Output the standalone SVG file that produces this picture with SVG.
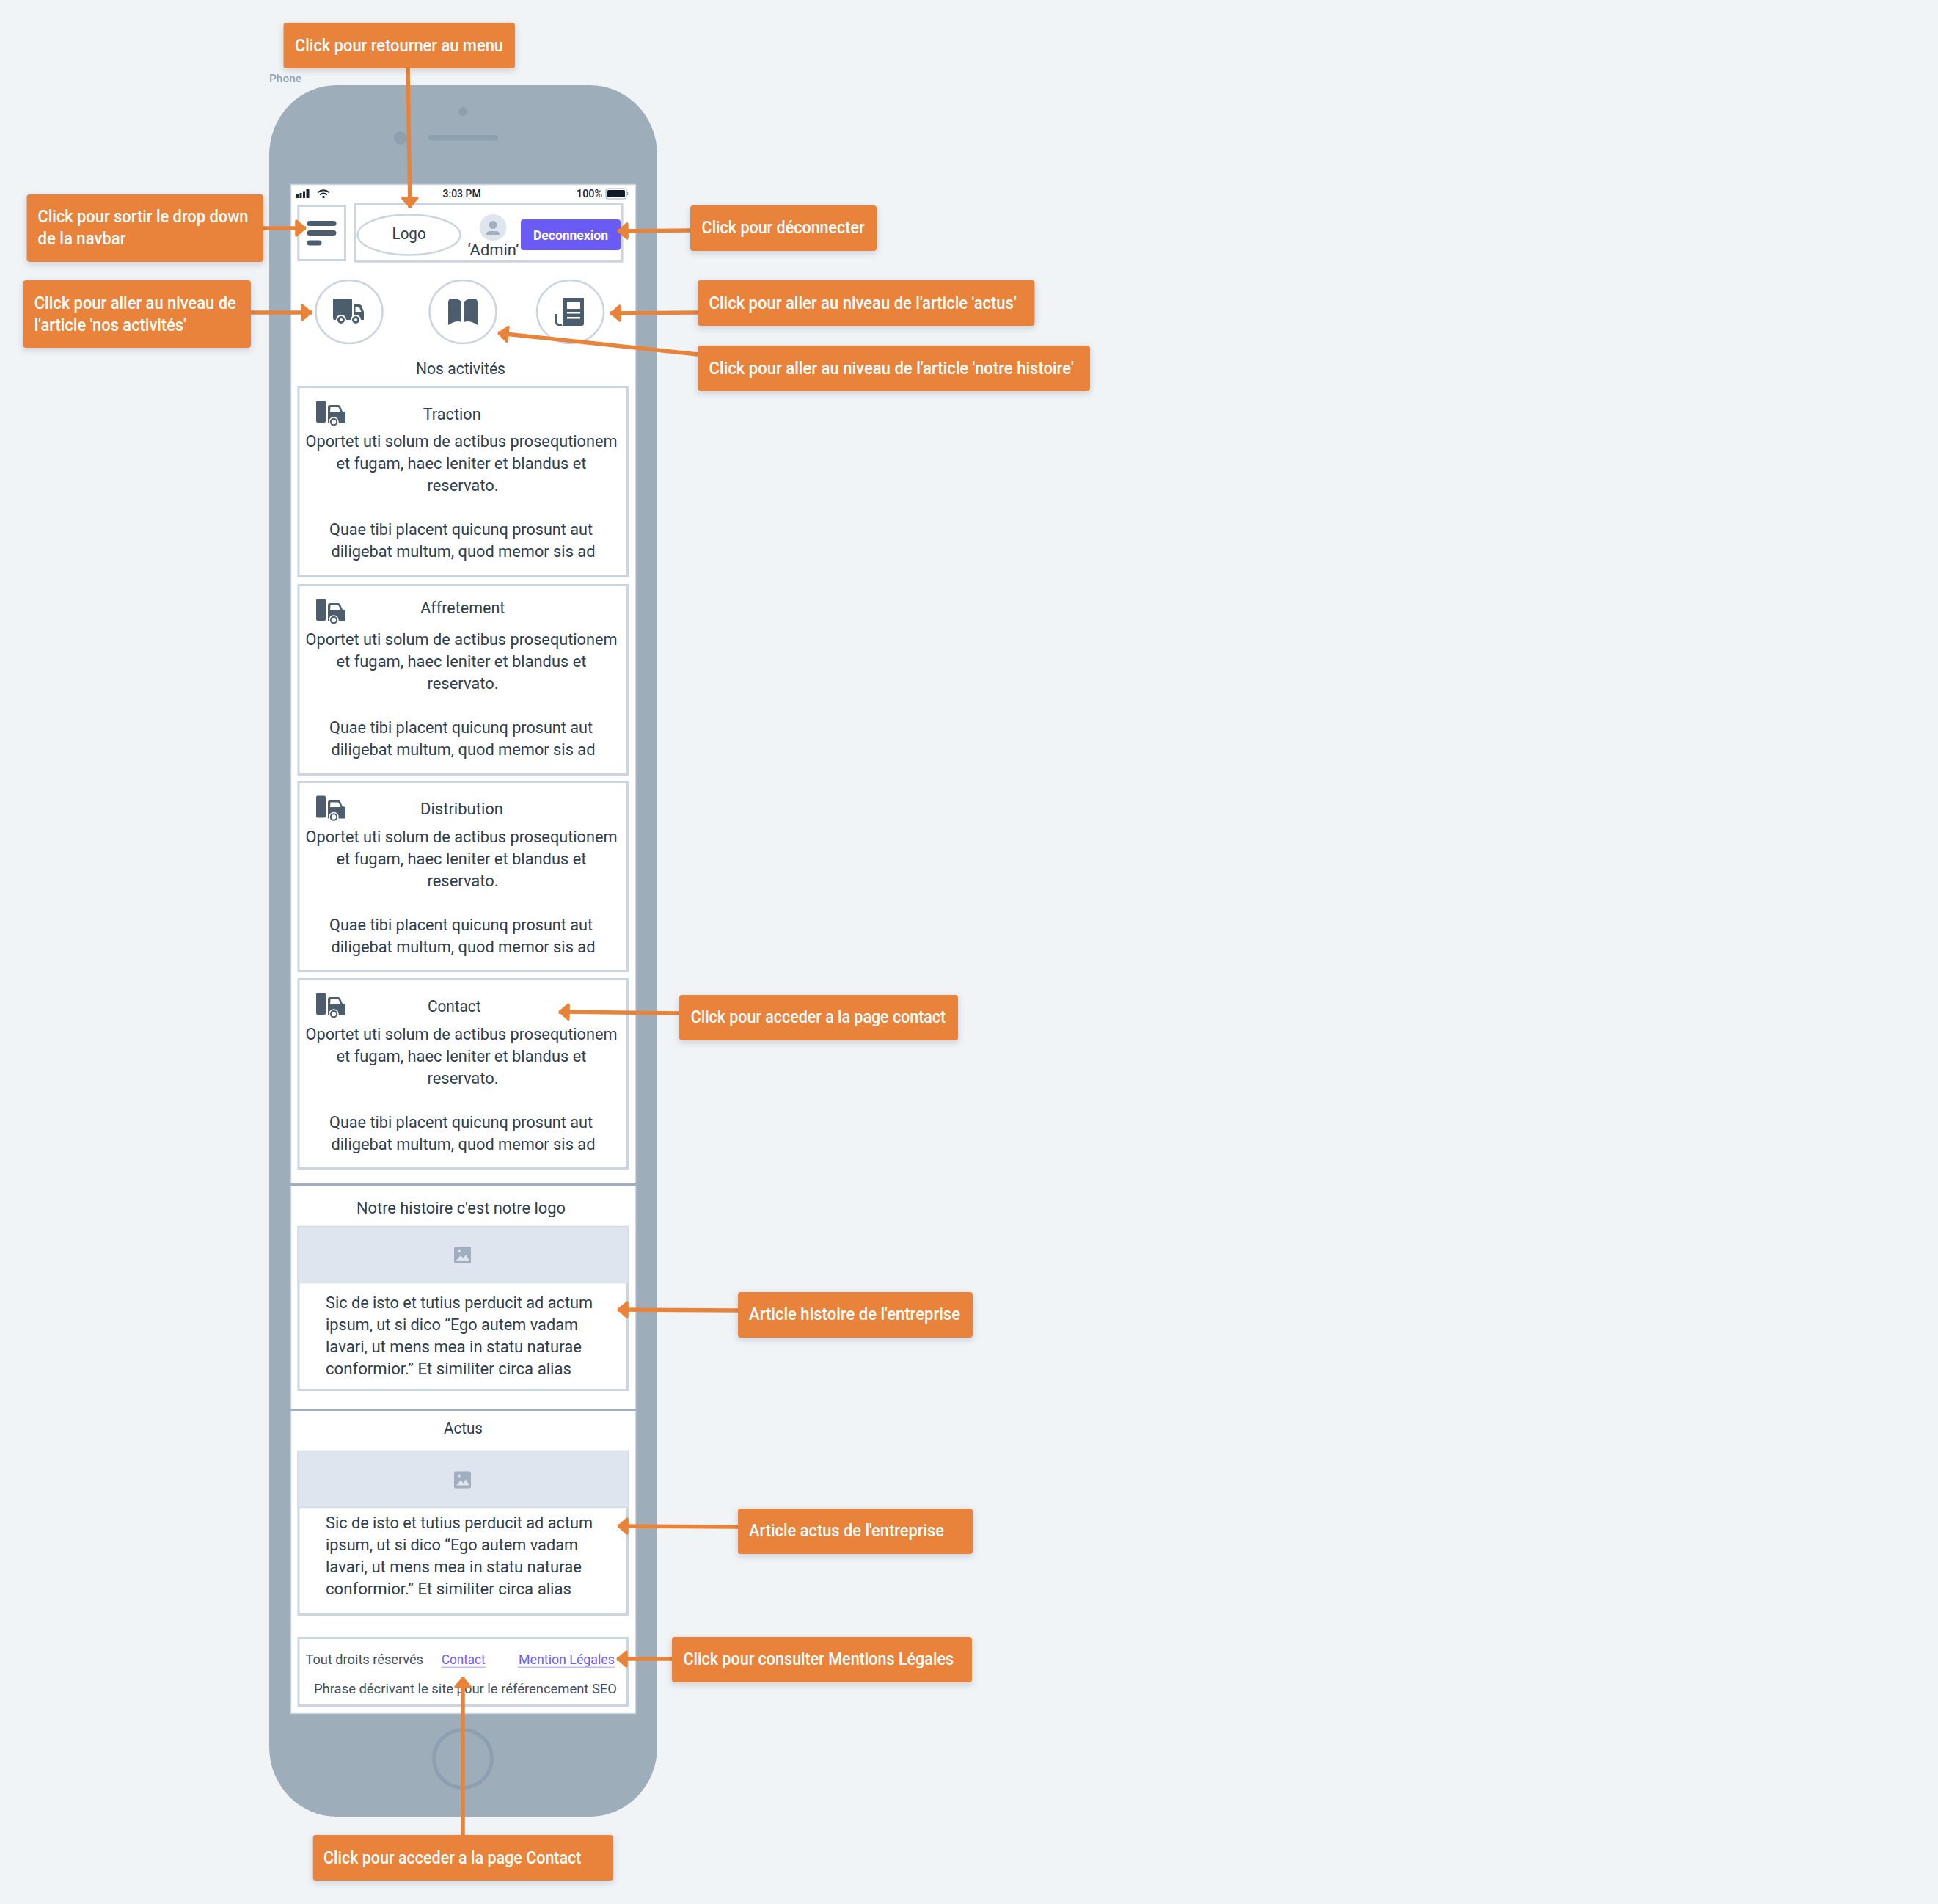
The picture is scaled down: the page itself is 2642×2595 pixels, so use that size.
<svg xmlns="http://www.w3.org/2000/svg" width="2642" height="2595" viewBox="0 0 2642 2595">
<style>
text{font-family:Roboto,"Liberation Sans",sans-serif;font-size:22px;fill:#2f3e4e;white-space:pre}
.c{font-weight:500;fill:#fff;font-size:23px}
.f{font-size:18.5px;fill:#414e5c}
.l{font-size:18.5px;fill:#6b5bf5}
.s{font-size:14.5px;font-weight:500;fill:#1c2733}
.box{fill:#fff;stroke:#cbd5e0;stroke-width:3}
.ph{fill:#dfe5ee;stroke:#d3dbe5;stroke-width:1.5}
.co{fill:#e9833a;rx:4px;ry:4px;filter:url(#sh)}
.cn{fill:none;stroke:#e9833a;stroke-width:5.5;marker-end:url(#ah)}
.ic{fill:#4c5e6e}
.dk{fill:#8e9fb0}
</style>
<defs>
<filter id="sh" x="-10%" y="-20%" width="120%" height="150%"><feDropShadow dx="0" dy="3" stdDeviation="4" flood-color="#334" flood-opacity=".18"/></filter>
<marker id="ah" markerUnits="userSpaceOnUse" markerWidth="24" markerHeight="26" viewBox="0 0 24 26" refX="21" refY="13" orient="auto"><path d="M21 13 9 2.5Q7 1 7 4V22Q7 25 9 23.5Z" fill="#e9833a" stroke="#e9833a" stroke-width="1.5" stroke-linejoin="round"/></marker>
<g id="tk">
<rect x="431" y="546" width="13" height="30" rx="2" class="ic"/>
<path class="ic" d="M447 555q0-3 3-3h11q2 0 3 2l3 7h2q2 0 2 2v14h-24z"/>
<path fill="#fff" d="M450.500 555h10q1 0 1.500 1l2.500 5.500h-14.500z"/>
<circle cx="455" cy="575" r="6" fill="#4c5e6e" stroke="#fff" stroke-width="1.500"/>
<circle cx="455" cy="575" r="3.200" fill="#fff"/>
</g>
<g id="im">
<rect x="619" y="0" width="23" height="23" rx="2" fill="#a0aec0"/>
<path fill="#dfe5ee" d="M622 19l6-7 3.500 4 3.500-5 5 8z"/>
<circle cx="626" cy="6" r="2" fill="#dfe5ee"/>
</g>
</defs>
<rect width="2642" height="2595" fill="#f0f4f7"/>
<g id="phone">
<text x="367" y="112" textLength="44" lengthAdjust="spacingAndGlyphs" style="font-size:15.500px;font-weight:500;fill:#93a3b3">Phone</text>
<rect x="367" y="116" width="529" height="2360" rx="92" ry="95" fill="#9dadba"/>
<circle cx="631" cy="152" r="6" class="dk"/>
<circle cx="546" cy="188" r="9" class="dk"/>
<rect x="584" y="184" width="95" height="7.500" rx="3.700" class="dk"/>
<circle cx="631" cy="2397" r="39.500" fill="none" stroke="#8e9fb0" stroke-width="5"/>
<rect x="396.500" y="251.500" width="470" height="2084" fill="#fff" stroke="#cbd5e0" stroke-width="1.500"/>
</g>
<g id="statusbar">
<path fill="#1c2733" d="M404 265h3v5h-3zM408.500 263h3v7h-3zM413 260.500h3v9.500h-3zM417.500 258h4v12h-4z"/>
<path fill="none" stroke="#1c2733" stroke-width="1.800" d="M433 262.500q8-6.500 16 0M436 265.500q5-4 10 0"/>
<circle cx="441" cy="268.500" r="1.800" fill="#1c2733"/>
<text class="s" x="603.600" y="269" textLength="52" lengthAdjust="spacingAndGlyphs">3:03 PM</text>
<text class="s" x="786" y="269" textLength="35" lengthAdjust="spacingAndGlyphs">100%</text>
<rect x="826" y="257" width="28" height="14" rx="3" fill="#fff" stroke="#a0aec0" stroke-width="1.200"/>
<rect x="828" y="259" width="24" height="10" rx="1.500" fill="#0f1a26"/>
<rect x="855" y="262" width="1.500" height="4" fill="#a0aec0"/>
</g>
<g id="menu-button">
<rect class="box" x="406.800" y="280.500" width="63.700" height="74"/>
<rect class="ic" x="418.500" y="301" width="40" height="7" rx="3.500"/>
<rect class="ic" x="418.500" y="314" width="40" height="7" rx="3.500"/>
<rect class="ic" x="418.500" y="327.500" width="20" height="7" rx="3.500"/>
</g>
<g id="header">
<rect class="box" x="484.400" y="278.200" width="363.700" height="78"/>
<ellipse cx="557.500" cy="320" rx="70" ry="27.500" fill="#fff" stroke="#cbd5e0" stroke-width="2.500"/>
<text x="534.600" y="326" textLength="46" lengthAdjust="spacingAndGlyphs">Logo</text>
<ellipse cx="672" cy="310" rx="18.500" ry="18" fill="#dfe5ee"/>
<circle cx="672" cy="306.500" r="5.500" fill="#a0aec0"/>
<path d="M663 320q0-5 5-5h8q5 0 5 5z" fill="#a0aec0"/>
<text x="637.500" y="348" textLength="70" lengthAdjust="spacingAndGlyphs">‘Admin’</text>
<rect x="710" y="299" width="136" height="42" rx="4" fill="#6b5bf5"/>
<text x="727" y="327" textLength="102" lengthAdjust="spacingAndGlyphs" style="font-size:18.500px;font-weight:700;fill:#fff">Deconnexion</text>
</g>
<g id="nav-activites">
<ellipse cx="476" cy="425" rx="45.500" ry="43" fill="#fff" stroke="#cbd5e0" stroke-width="2.500"/>
<rect class="ic" x="454" y="407" width="26" height="29" rx="2"/>
<path class="ic" d="M482 415h8q2 0 3 2l3 8v11h-14z"/>
<path fill="#fff" d="M484.500 418h5l3 7h-8z"/>
<circle cx="465" cy="436" r="6" fill="#4c5e6e" stroke="#fff" stroke-width="2"/><circle cx="465" cy="436" r="2" fill="#fff"/>
<circle cx="485" cy="436" r="6" fill="#4c5e6e" stroke="#fff" stroke-width="2"/><circle cx="485" cy="436" r="2" fill="#fff"/>
</g>
<g id="nav-histoire">
<ellipse cx="631" cy="425" rx="45.500" ry="43" fill="#fff" stroke="#cbd5e0" stroke-width="2.500"/>
<path class="ic" d="M629 411v28q-7-3-18 4v-31q0-5 6-5 8 0 12 4zM633 411v28q7-3 18 4v-31q0-5-6-5-8 0-12 4z"/>
</g>
<g id="nav-actus">
<ellipse cx="777.500" cy="425" rx="45.500" ry="43" fill="#fff" stroke="#cbd5e0" stroke-width="2.500"/>
<path class="ic" d="M768 406h28v35q0 3-3 3h-27q2-1 2-4z"/>
<path fill="none" stroke="#4c5e6e" stroke-width="3" d="M758.500 428v11q0 3.500 3.500 3.500h4"/>
<path fill="#fff" d="M773 412h18v9h-18zM773 425h18v2.500h-18zM773 432h18v2.500h-18z"/>
</g>
<g id="title-activites"><text x="567" y="510" textLength="122" lengthAdjust="spacingAndGlyphs">Nos activités</text></g>
<g id="card-traction">
<rect class="box" x="407" y="527.500" width="448.500" height="258"/>
<use href="#tk"/>
<text x="576.700" y="572" textLength="79" lengthAdjust="spacingAndGlyphs">Traction</text>
<text x="416.500" y="609" textLength="425" lengthAdjust="spacingAndGlyphs">Oportet uti solum de actibus prosequtionem</text>
<text x="458.500" y="639" textLength="341" lengthAdjust="spacingAndGlyphs">et fugam, haec leniter et blandus et</text>
<text x="582.500" y="669" textLength="97" lengthAdjust="spacingAndGlyphs">reservato.</text>
<text x="449" y="729" textLength="359" lengthAdjust="spacingAndGlyphs">Quae tibi placent quicunq prosunt aut</text>
<text x="451.500" y="759" textLength="360" lengthAdjust="spacingAndGlyphs">diligebat multum, quod memor sis ad</text>
</g>
<g id="card-affretement">
<rect class="box" x="407" y="797.500" width="448.500" height="258"/>
<use href="#tk" y="270"/>
<text x="573.300" y="836" textLength="115" lengthAdjust="spacingAndGlyphs">Affretement</text>
<text x="416.500" y="879" textLength="425" lengthAdjust="spacingAndGlyphs">Oportet uti solum de actibus prosequtionem</text>
<text x="458.500" y="909" textLength="341" lengthAdjust="spacingAndGlyphs">et fugam, haec leniter et blandus et</text>
<text x="582.500" y="939" textLength="97" lengthAdjust="spacingAndGlyphs">reservato.</text>
<text x="449" y="999" textLength="359" lengthAdjust="spacingAndGlyphs">Quae tibi placent quicunq prosunt aut</text>
<text x="451.500" y="1029" textLength="360" lengthAdjust="spacingAndGlyphs">diligebat multum, quod memor sis ad</text>
</g>
<g id="card-distribution">
<rect class="box" x="407" y="1065.500" width="448.500" height="258"/>
<use href="#tk" y="538.500"/>
<text x="573" y="1110" textLength="113" lengthAdjust="spacingAndGlyphs">Distribution</text>
<text x="416.500" y="1148" textLength="425" lengthAdjust="spacingAndGlyphs">Oportet uti solum de actibus prosequtionem</text>
<text x="458.500" y="1178" textLength="341" lengthAdjust="spacingAndGlyphs">et fugam, haec leniter et blandus et</text>
<text x="582.500" y="1208" textLength="97" lengthAdjust="spacingAndGlyphs">reservato.</text>
<text x="449" y="1268" textLength="359" lengthAdjust="spacingAndGlyphs">Quae tibi placent quicunq prosunt aut</text>
<text x="451.500" y="1298" textLength="360" lengthAdjust="spacingAndGlyphs">diligebat multum, quod memor sis ad</text>
</g>
<g id="card-contact">
<rect class="box" x="407" y="1334.500" width="448.500" height="258"/>
<use href="#tk" y="807"/>
<text x="583" y="1379" textLength="72.500" lengthAdjust="spacingAndGlyphs">Contact</text>
<text x="416.500" y="1417" textLength="425" lengthAdjust="spacingAndGlyphs">Oportet uti solum de actibus prosequtionem</text>
<text x="458.500" y="1447" textLength="341" lengthAdjust="spacingAndGlyphs">et fugam, haec leniter et blandus et</text>
<text x="582.500" y="1477" textLength="97" lengthAdjust="spacingAndGlyphs">reservato.</text>
<text x="449" y="1537" textLength="359" lengthAdjust="spacingAndGlyphs">Quae tibi placent quicunq prosunt aut</text>
<text x="451.500" y="1567" textLength="360" lengthAdjust="spacingAndGlyphs">diligebat multum, quod memor sis ad</text>
</g>
<g id="dividers" fill="#a0aec0">
<rect x="396" y="1613" width="471" height="3"/>
<rect x="396" y="1920" width="471" height="3"/>
</g>
<g id="article-histoire">
<text x="486" y="1654" textLength="285" lengthAdjust="spacingAndGlyphs">Notre histoire c'est notre logo</text>
<rect class="box" x="407" y="1672.500" width="448.500" height="222"/>
<rect class="ph" x="406" y="1671.500" width="450.500" height="77"/>
<use href="#im" y="1699"/>
<text x="444" y="1783" textLength="364" lengthAdjust="spacingAndGlyphs">Sic de isto et tutius perducit ad actum</text>
<text x="444" y="1813" textLength="344" lengthAdjust="spacingAndGlyphs">ipsum, ut si dico “Ego autem vadam</text>
<text x="444" y="1843" textLength="349" lengthAdjust="spacingAndGlyphs">lavari, ut mens mea in statu naturae</text>
<text x="444" y="1873" textLength="335" lengthAdjust="spacingAndGlyphs">conformior.” Et similiter circa alias</text>
</g>
<g id="article-actus">
<text x="605" y="1954" textLength="53" lengthAdjust="spacingAndGlyphs">Actus</text>
<rect class="box" x="407" y="1978.500" width="448.500" height="222"/>
<rect class="ph" x="406" y="1977.500" width="450.500" height="77"/>
<use href="#im" y="2005.500"/>
<text x="444" y="2083" textLength="364" lengthAdjust="spacingAndGlyphs">Sic de isto et tutius perducit ad actum</text>
<text x="444" y="2113" textLength="344" lengthAdjust="spacingAndGlyphs">ipsum, ut si dico “Ego autem vadam</text>
<text x="444" y="2143" textLength="349" lengthAdjust="spacingAndGlyphs">lavari, ut mens mea in statu naturae</text>
<text x="444" y="2173" textLength="335" lengthAdjust="spacingAndGlyphs">conformior.” Et similiter circa alias</text>
</g>
<g id="footer">
<rect class="box" x="407" y="2232.500" width="448.500" height="92"/>
<text class="f" x="416.500" y="2268" textLength="160.500" lengthAdjust="spacingAndGlyphs">Tout droits réservés</text>
<text class="l" x="602" y="2268" textLength="59.500" lengthAdjust="spacingAndGlyphs">Contact</text>
<rect x="601" y="2271.500" width="61" height="2" fill="#c4bcfb"/>
<text class="l" x="707" y="2268" textLength="131" lengthAdjust="spacingAndGlyphs">Mention Légales</text>
<rect x="706" y="2271.500" width="132" height="2" fill="#c4bcfb"/>
<text class="f" x="428" y="2308" textLength="413" lengthAdjust="spacingAndGlyphs">Phrase décrivant le site pour le référencement SEO</text>
</g>
<g id="connectors">
<path class="cn" d="M556 93 559 283"/>
<path class="cn" d="M359 311H417"/>
<path class="cn" d="M342 426H425"/>
<path class="cn" d="M941 314 842 315"/>
<path class="cn" d="M951 426 832 427"/>
<path class="cn" d="M951 483 679 454"/>
<path class="cn" d="M926 1381 762 1379"/>
<path class="cn" d="M1006 1786 842 1785"/>
<path class="cn" d="M1006 2081 842 2080"/>
<path class="cn" d="M916 2261H841"/>
<path class="cn" d="M631 2501V2286"/>
</g>
<g id="note-menu"><rect class="co" x="386.500" y="31" width="315.500" height="62"/><text class="c" x="402" y="70" textLength="284" lengthAdjust="spacingAndGlyphs">Click pour retourner au menu</text></g>
<g id="note-dropdown"><rect class="co" x="36.500" y="265" width="322.500" height="92"/><text class="c" x="51.500" y="303" textLength="287" lengthAdjust="spacingAndGlyphs">Click pour sortir le drop down</text><text class="c" x="51.500" y="333" textLength="120" lengthAdjust="spacingAndGlyphs">de la navbar</text></g>
<g id="note-activites"><rect class="co" x="31.500" y="382" width="310.500" height="92"/><text class="c" x="46.800" y="421" textLength="275" lengthAdjust="spacingAndGlyphs">Click pour aller au niveau de</text><text class="c" x="46.800" y="451" textLength="207" lengthAdjust="spacingAndGlyphs">l'article 'nos activités'</text></g>
<g id="note-deconnecter"><rect class="co" x="941" y="280" width="254" height="62"/><text class="c" x="956.600" y="318" textLength="222" lengthAdjust="spacingAndGlyphs">Click pour déconnecter</text></g>
<g id="note-actus"><rect class="co" x="951" y="382" width="459.500" height="62"/><text class="c" x="966.600" y="421" textLength="419" lengthAdjust="spacingAndGlyphs">Click pour aller au niveau de l'article 'actus'</text></g>
<g id="note-histoire"><rect class="co" x="951" y="471" width="535" height="62"/><text class="c" x="966.600" y="510" textLength="497" lengthAdjust="spacingAndGlyphs">Click pour aller au niveau de l'article 'notre histoire'</text></g>
<g id="note-contact"><rect class="co" x="926" y="1356" width="380" height="62"/><text class="c" x="941.700" y="1394" textLength="347.500" lengthAdjust="spacingAndGlyphs">Click pour acceder a la page contact</text></g>
<g id="note-article-histoire"><rect class="co" x="1006" y="1761" width="320" height="62"/><text class="c" x="1021" y="1799" textLength="288" lengthAdjust="spacingAndGlyphs">Article histoire de l'entreprise</text></g>
<g id="note-article-actus"><rect class="co" x="1006" y="2056" width="320" height="62"/><text class="c" x="1021" y="2094" textLength="266" lengthAdjust="spacingAndGlyphs">Article actus de l'entreprise</text></g>
<g id="note-mentions"><rect class="co" x="916" y="2231" width="409" height="62"/><text class="c" x="931.500" y="2269" textLength="368.500" lengthAdjust="spacingAndGlyphs">Click pour consulter Mentions Légales</text></g>
<g id="note-contact-footer"><rect class="co" x="426.700" y="2501" width="409.300" height="62"/><text class="c" x="441" y="2540" textLength="351.500" lengthAdjust="spacingAndGlyphs">Click pour acceder a la page Contact</text></g>
</svg>
